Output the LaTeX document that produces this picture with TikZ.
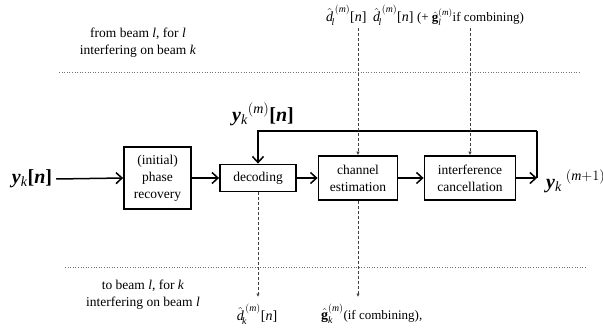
\documentclass[tikz,border=0pt]{standalone}
\usepackage{amsmath}
\usepackage{fontspec}
\setmainfont{Liberation Serif}
\usetikzlibrary{arrows.meta}

% symbols used in the labels
\newcommand{\bfy}{\textbf{\textit{y}}}
\newcommand{\bfn}{\textbf{[}\textbf{\textit{n}}\textbf{]}}
\newcommand{\dhat}[1]{$\hat{\textit{d}}_{\!\textit{#1}}^{\,(\textit{m})}$[\textit{n}]}
\newcommand{\ghat}[1]{$\hat{\textbf{g}}_{\textit{#1}}^{(\textit{m})}$}
\newcommand{\smalltextfont}{\fontsize{13}{16}\selectfont}

\begin{document}
\begin{tikzpicture}[x=1pt,y=-1pt,
  blockbox/.style={draw, line width=1.8pt, inner sep=1pt, align=center,
    font=\fontsize{13.5}{17}\selectfont},
  flow/.style={line width=1.5pt, -{Straight Barb[length=6pt,width=11pt]}},
  loopline/.style={line width=1.5pt},
  sidechannel/.style={densely dashed, line width=0.8pt, draw=black!75,
    -{Latex[length=3.5pt,width=3.5pt]}},
  divider/.style={dotted, line width=0.6pt, draw=black!55},
  note/.style={align=center, font=\fontsize{13.5}{17}\selectfont},
  biglabel/.style={font=\fontsize{20}{24}\selectfont, inner sep=0pt},
  mathlabel/.style={font=\fontsize{14}{17}\selectfont, inner sep=0pt}]

\useasboundingbox (0,0) rectangle (603,327);

% processing chain
\node[blockbox, minimum width=67pt, minimum height=62pt] (phase) at (157.5,178) {(initial)\\phase\\recovery};
\node[blockbox, minimum width=76pt, minimum height=27pt] (dec) at (258,178) {decoding};
\node[blockbox, minimum width=79pt, minimum height=44pt] (chan) at (358,178) {channel\\estimation};
\node[blockbox, minimum width=91pt, minimum height=44pt] (intf) at (470,178) {interference\\cancellation};

% input and output signals
\node[biglabel] (yin) at (32,179) {\bfy$_{\textit{k}}$\bfn};
\node[biglabel] (yfb) at (263,114) {\bfy$_{\textit{k}}{}^{(\textit{m})}$\bfn};
\node[biglabel, anchor=west] (yout) at (546,181) {\bfy$_{\textit{k}}{}^{\;(\textit{m}+1)}$};
\coordinate (out) at (537,178);
\coordinate (turn) at (537,131);

\draw[flow] (yin.east) ++(4,0) -- (phase.west);
\draw[flow] (phase) -- (dec);
\draw[flow] (dec) -- (chan);
\draw[flow] (chan) -- (intf);
\draw[flow] (intf) -- (out);
\draw[loopline] (out) -- (turn);
\draw[flow] (turn) -| (dec.north);

% exchange with the other beams
\draw[divider] (59,72) -- (580,72);
\draw[divider] (65,267) -- (587,267);

\node[note] (fromtxt) at (138,43) {from beam \textit{l}, for \textit{l}\\interfering on beam \textit{k}};
\node[note] (totxt) at (143,295) {to beam \textit{l}, for \textit{k}\\interfering on beam \textit{l}};

\node[mathlabel, anchor=west] (dl) at (326,15) {\dhat{l}};
\node[mathlabel, anchor=west] (dlg) at (373,15) {\dhat{l} {\smalltextfont (+ \ghat{l}if combining)}};
\coordinate (dlstart) at (chan.north |- 0,28);
\coordinate (dlgstart) at (intf.north |- 0,28);
\draw[sidechannel] (dlstart) -- (chan.north);
\draw[sidechannel] (dlgstart) -- (intf.north);

\node[mathlabel] (dk) at (257,314) {\dhat{k}};
\node[mathlabel, anchor=west] (gk) at (321,314) {\ghat{k}{\smalltextfont (if combining),}};
\coordinate (dkend) at (dec.south |- 0,297);
\coordinate (gkend) at (chan.south |- 0,297);
\draw[sidechannel] (dec.south) -- (dkend);
\draw[sidechannel] (chan.south) -- (gkend);

\end{tikzpicture}
\end{document}
